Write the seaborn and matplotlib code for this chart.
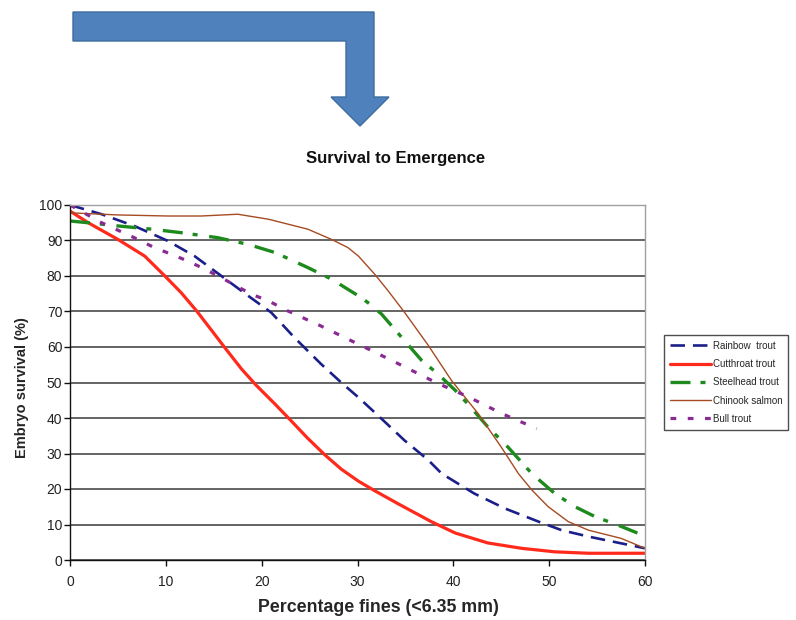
import numpy as np
import pandas as pd
import matplotlib
matplotlib.use("Agg")
import matplotlib.pyplot as plt
from matplotlib.patches import Polygon
import seaborn as sns

# Embryo survival to emergence (%) versus percentage of fines (<6.35 mm)
rainbow_x = [0, 3.3, 6.7, 10.2, 13, 15.8, 18.6, 21, 23.4, 26.2, 28.3, 30.1, 32.5, 34.9, 37.4,
             38.8, 40.2, 42.2, 45.4, 48.9, 51.3, 54.1, 57.5, 60]
rainbow_y = [100, 97.4, 94.1, 89.9, 85.6, 80, 74.4, 69.7, 62.7, 55.2, 50, 45.8, 39.8, 33.7, 28.1,
             24.3, 22, 18.7, 14.5, 10.8, 8.4, 6.6, 4.7, 3.3]

cutthroat_x = [0, 1.9, 5, 7.8, 9.9, 11.6, 13.2, 14.8, 16.1, 17.9, 19.4, 21.4, 22.9, 24.8, 26.6,
               28.3, 30.1, 31.8, 34.2, 37.7, 40.2, 43.6, 47.1, 50.6, 54.1, 60]
cutthroat_y = [98.3, 95, 90.3, 85.6, 80, 75.3, 70.2, 64.6, 60, 53.8, 49.3, 43.9, 39.7, 34.3, 29.6,
               25.6, 22.2, 19.5, 15.9, 10.8, 7.6, 4.8, 3.3, 2.3, 1.9, 1.9]

steelhead_x = [0, 1.9, 5, 8.5, 11.6, 15.4, 18.6, 21.4, 24.8, 27.3, 30.1, 31.3, 32.5, 34.9, 36.7,
               38.4, 40.2, 41.5, 43.6, 45.7, 48.2, 50.6, 52.7, 54.8, 57.2, 59.3]
steelhead_y = [95.5, 95, 94.1, 93.2, 92.2, 90.8, 88.9, 86.6, 82.4, 79.1, 74.4, 72.1, 69.3, 61.8, 56.2,
               52.4, 47.8, 44, 37.5, 31.8, 24.3, 18.7, 15, 12.2, 9.8, 7.5]

chinook_x = [0, 5, 10.2, 13.7, 17.5, 20.7, 24.8, 27.3, 29, 30.1, 31.8, 33.2, 34.9, 37.4, 39.8,
             42.6, 45, 46.8, 48.2, 49.9, 52, 54.1, 57.5, 60]
chinook_y = [97.8, 97.2, 96.9, 96.9, 97.4, 96, 93.2, 90.3, 88, 85.6, 80.5, 75.8, 69.8, 60.4, 50.6,
             41.2, 31.8, 24.3, 19.7, 15, 10.8, 8.4, 6.1, 3.3]

bull_x = [0, 3.3, 6.7, 8.8, 10.6, 12.3, 14.1, 15.8, 18.9, 20.7, 22.7, 26.2, 29.7, 32.9, 35,
          38.1, 41.6, 45.1, 48.7]
bull_y = [100, 95, 90.8, 88, 86.1, 84.2, 81.9, 79.5, 74.9, 73, 70.2, 65.9, 61.3, 57.1, 54.3,
          50.1, 45.9, 41.2, 37]

species = ["Rainbow  trout", "Cutthroat trout", "Steelhead trout", "Chinook salmon", "Bull trout"]
series = [(rainbow_x, rainbow_y), (cutthroat_x, cutthroat_y), (steelhead_x, steelhead_y),
          (chinook_x, chinook_y), (bull_x, bull_y)]

x_ticks = [0, 10, 20, 30, 40, 50, 60]
y_ticks = [0, 10, 20, 30, 40, 50, 60, 70, 80, 90, 100]

df = pd.concat(
    [pd.DataFrame({"fines": xs, "survival": ys, "species": name})
     for name, (xs, ys) in zip(species, series)],
    ignore_index=True,
)

palette = {
    "Rainbow  trout": "#1B1F8A",
    "Cutthroat trout": "#FF2A1C",
    "Steelhead trout": "#1E8A1E",
    "Chinook salmon": "#A64B22",
    "Bull trout": "#8A2B94",
}
dashes = {
    "Rainbow  trout": (5.5, 3),
    "Cutthroat trout": "",
    "Steelhead trout": (6, 3, 1.5, 3.5),
    "Chinook salmon": "",
    "Bull trout": (1.8, 3.6),
}
sizes = {
    "Rainbow  trout": 1.9,
    "Cutthroat trout": 2.3,
    "Steelhead trout": 2.4,
    "Chinook salmon": 1.0,
    "Bull trout": 2.3,
}

sns.set_style("white")
plt.rcParams["font.family"] = ["Liberation Sans", "DejaVu Sans"]

fig = plt.figure(figsize=(7.96, 6.2), dpi=100)
ax = fig.add_axes([70 / 796, 60 / 620, 575 / 796, 355 / 620])

sns.lineplot(
    data=df, x="fines", y="survival", hue="species", style="species", size="species",
    hue_order=species, style_order=species, size_order=species,
    palette=palette, dashes=dashes, sizes=sizes, markers=False,
    estimator=None, sort=False, ax=ax,
)

ax.set_xlim(0, 60)
ax.set_ylim(0, 100)
ax.set_xticks(x_ticks)
ax.set_yticks(y_ticks)
ax.set_axisbelow(True)
ax.yaxis.grid(True, color="#4a4a4a", linewidth=1.2)
ax.xaxis.grid(False)

for side in ("left", "bottom"):
    ax.spines[side].set_color("#111111")
    ax.spines[side].set_linewidth(1.0)
for side in ("top", "right"):
    ax.spines[side].set_color("#a0a0a0")
    ax.spines[side].set_linewidth(1.0)

ax.tick_params(axis="both", direction="out", length=4, width=1, color="#111111",
               labelsize=10, labelcolor="#222222")
ax.tick_params(axis="x", bottom=True, pad=6.5)
ax.tick_params(axis="y", left=True, pad=1.5)

ax.set_xlabel("Percentage fines (<6.35 mm)", fontsize=12.8, fontweight="bold", va="center")
ax.xaxis.set_label_coords(0.536, -0.134)
ax.set_ylabel("Embryo survival (%)", fontsize=10.5, fontweight="bold", va="center")
ax.yaxis.set_label_coords(-0.0835, 0.485)

handles, labels = ax.get_legend_handles_labels()
leg = ax.legend(
    handles, labels, loc="upper left", bbox_to_anchor=(664 / 796, 1 - 335 / 620),
    bbox_transform=fig.transFigure, fontsize=7, frameon=True, fancybox=False,
    handlelength=4.2, handletextpad=0.2, labelspacing=0.85, borderpad=0.6,
    borderaxespad=0,
)
leg.get_frame().set_edgecolor("#222222")
leg.get_frame().set_linewidth(1.0)

fig.text(396 / 796, 1 - 159 / 620, "Survival to Emergence", ha="center", va="center",
         fontsize=12, fontweight="bold", color="#111111")

# Bent arrow above the chart
arrow_px = [(73, 12), (374, 12), (374, 97), (389, 97), (360, 126), (331, 97),
            (346, 97), (346, 41), (73, 41)]
arrow = Polygon([(px / 796, 1 - py / 620) for px, py in arrow_px], closed=True,
                transform=fig.transFigure, facecolor="#4F81BD", edgecolor="#3D6C9E",
                linewidth=1.0)
fig.add_artist(arrow)

fig.savefig("out.png", dpi=100)
